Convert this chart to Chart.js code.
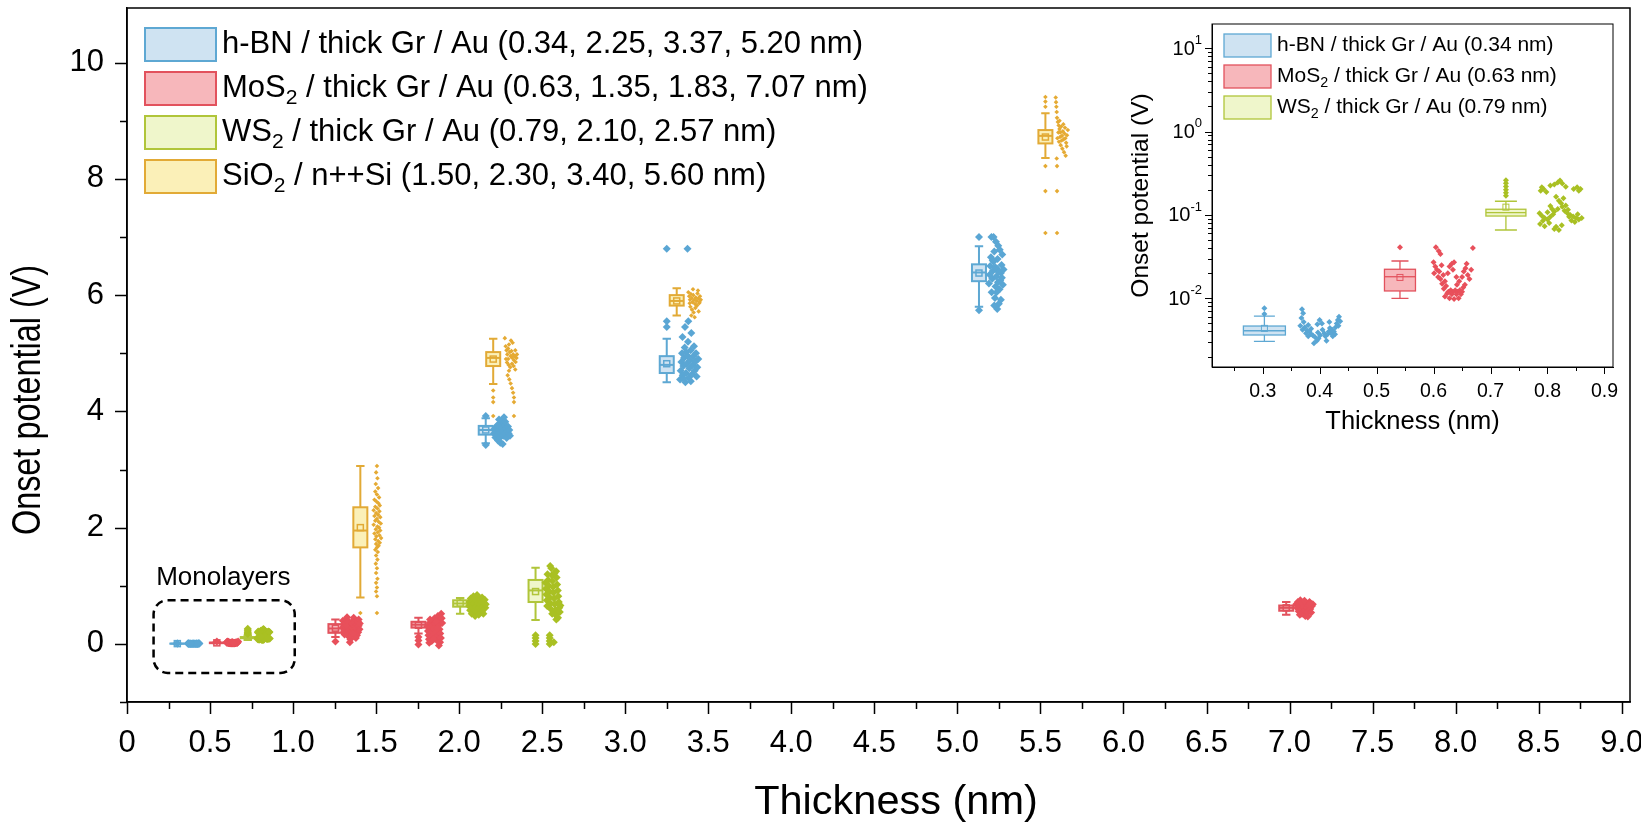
<!DOCTYPE html>
<html><head><meta charset="utf-8">
<script src="https://cdn.jsdelivr.net/npm/chart.js@4/dist/chart.umd.min.js"></script>
<style>
html,body{margin:0;padding:0;background:#fff;}
#wrap{position:relative;width:1641px;height:829px;overflow:hidden;}
#main{position:absolute;left:0;top:0;}
#inset{position:absolute;left:1100px;top:0;}
</style></head><body>
<div id="wrap"><canvas id="main" width="1641" height="829"></canvas><canvas id="inset" width="530" height="440"></canvas></div>
<script>
// ---------------- axis ticks / labels ----------------
const xTickVals = [0,0.5,1,1.5,2,2.5,3,3.5,4,4.5,5,5.5,6,6.5,7,7.5,8,8.5,9];
const xTickLabels = ['0','0.5','1.0','1.5','2.0','2.5','3.0','3.5','4.0','4.5','5.0','5.5','6.0','6.5','7.0','7.5','8.0','8.5','9.0'];
const xMinorVals = [0.25,0.75,1.25,1.75,2.25,2.75,3.25,3.75,4.25,4.75,5.25,5.75,6.25,6.75,7.25,7.75,8.25,8.75];
const yTickVals = [0,2,4,6,8,10];
const yTickLabels = ['0','2','4','6','8','10'];
const yMinorVals = [-1,1,3,5,7,9];
const insetXTickVals = [0.3,0.4,0.5,0.6,0.7,0.8,0.9];
const insetXTickLabels = ['0.3','0.4','0.5','0.6','0.7','0.8','0.9'];
const insetXMinorVals = [0.25,0.35,0.45,0.55,0.65,0.75,0.85];
const insetYDecades = [0.01,0.1,1,10];
const insetYExponents = ['-2','-1','0','1'];
const mainXTitle = 'Thickness (nm)';
const mainYTitle = 'Onset potential (V)';
const insetXTitle = 'Thickness (nm)';
const insetYTitle = 'Onset potential (V)';

// ---------------- legend text ----------------
const mainLegendLabels = [
  'h-BN / thick Gr / Au (0.34, 2.25, 3.37, 5.20 nm)',
  'MoS_2 / thick Gr / Au (0.63, 1.35, 1.83, 7.07 nm)',
  'WS_2 / thick Gr / Au (0.79, 2.10, 2.57 nm)',
  'SiO_2 / n++Si (1.50, 2.30, 3.40, 5.60 nm)'
];
const insetLegendLabels = [
  'h-BN / thick Gr / Au (0.34 nm)',
  'MoS_2 / thick Gr / Au (0.63 nm)',
  'WS_2 / thick Gr / Au (0.79 nm)'
];
const monoLabel = 'Monolayers';
const monoFrame = [0.16, 1.01, -0.5, 0.75];   // x0, x1, y0, y1 (data units)
const monoLabelPos = [0.58, 1.14];

// ---------------- box statistics: [x, lowWhisker, q1, median, q3, highWhisker, mean] ----------------
const hbnBoxes = [
  [0.303, 0.00305, 0.00363, 0.00408, 0.00465, 0.0061, 0.00436],
  [2.160, 3.45, 3.60, 3.68, 3.75, 3.88, 3.68],
  [3.250, 4.50, 4.66, 4.80, 4.95, 5.25, 4.82],
  [5.130, 5.80, 6.24, 6.39, 6.53, 6.84, 6.38]
];
const mos2Boxes = [
  [0.541, 0.0100, 0.01225, 0.01815, 0.0223, 0.028, 0.0178],
  [1.255, 0.12, 0.19, 0.265, 0.34, 0.42, 0.27],
  [1.755, 0.18, 0.28, 0.33, 0.38, 0.45, 0.32],
  [6.980, 0.50, 0.57, 0.62, 0.66, 0.72, 0.62]
];
const ws2Boxes = [
  [0.727, 0.066, 0.097, 0.1066, 0.117, 0.146, 0.124],
  [2.006, 0.52, 0.64, 0.695, 0.75, 0.79, 0.70],
  [2.460, 0.41, 0.72, 0.92, 1.10, 1.31, 0.90]
];
const sio2Boxes = [
  [1.405, 0.80, 1.66, 1.95, 2.35, 3.06, 2.00],
  [2.205, 4.47, 4.78, 4.92, 5.02, 5.25, 4.90],
  [3.310, 5.65, 5.82, 5.90, 6.00, 6.12, 5.90],
  [5.530, 8.36, 8.61, 8.74, 8.84, 9.13, 8.72]
];

// ---------------- box outliers [x, y] ----------------
const hbnOutliers = [[0.303,0.0076],[0.303,0.0065],[2.16,3.92],[2.16,3.42],[3.25,5.45],[3.25,5.55],[3.25,6.80],[5.13,7.00],[5.13,5.74]];
const mos2Outliers = [[0.541,0.041],[1.255,0.04],[1.755,0.12],[1.755,0.06],[1.755,-0.01]];
const ws2Outliers = [[0.727,0.17],[0.727,0.185],[0.727,0.20],[0.727,0.22],[0.727,0.24],[0.727,0.26],[2.46,0.15],[2.46,0.10],[2.46,0.05],[2.46,0.0]];
const sio2Outliers = [[1.405,0.53],[2.205,4.36],[2.205,4.24],[2.205,4.16],[2.205,3.92],[5.53,9.24],[5.53,9.33],[5.53,9.41],[5.53,8.22],[5.53,7.79],[5.53,7.07]];

// ---------------- individual measurements [x(jittered), V] ----------------
const hbn034Pts = [[0.369,0.0074],[0.371,0.0066],[0.368,0.0058],[0.372,0.0052],[0.366,0.0047],[0.374,0.0045],[0.370,0.0042],[0.378,0.0041],[0.382,0.0040],[0.376,0.0038],[0.385,0.0037],[0.380,0.0035],[0.388,0.0036],[0.392,0.0034],[0.395,0.0031],[0.390,0.0029],[0.398,0.0033],[0.401,0.0036],[0.397,0.0039],[0.400,0.0055],[0.404,0.0050],[0.396,0.0049],[0.405,0.0042],[0.408,0.0038],[0.410,0.0035],[0.412,0.0031],[0.414,0.0037],[0.416,0.0040],[0.418,0.0044],[0.420,0.0038],[0.422,0.0042],[0.417,0.0052],[0.425,0.0040],[0.428,0.0045],[0.430,0.0050],[0.432,0.0055],[0.434,0.0060],[0.436,0.0053],[0.433,0.0047],[0.427,0.0037],[0.423,0.0035],[0.385,0.0043],[0.380,0.0048]];
const mos2063Pts = [[0.604,0.041],[0.609,0.037],[0.612,0.034],[0.600,0.027],[0.603,0.024],[0.606,0.022],[0.601,0.020],[0.610,0.021],[0.614,0.025],[0.608,0.018],[0.612,0.017],[0.617,0.019],[0.615,0.015],[0.620,0.016],[0.618,0.013],[0.622,0.014],[0.626,0.012],[0.630,0.0125],[0.634,0.012],[0.638,0.0125],[0.642,0.012],[0.646,0.0125],[0.650,0.012],[0.624,0.0115],[0.632,0.0112],[0.640,0.0112],[0.648,0.0112],[0.620,0.0105],[0.628,0.0100],[0.636,0.0098],[0.644,0.0100],[0.625,0.020],[0.628,0.024],[0.632,0.026],[0.636,0.027],[0.634,0.022],[0.640,0.018],[0.645,0.016],[0.650,0.018],[0.653,0.021],[0.656,0.023],[0.658,0.026],[0.660,0.019],[0.663,0.017],[0.655,0.0145],[0.666,0.022],[0.669,0.040],[0.652,0.0135],[0.641,0.0145]];
const ws2079Pts = [[0.788,0.195],[0.793,0.205],[0.798,0.188],[0.790,0.215],[0.805,0.225],[0.812,0.232],[0.818,0.245],[0.822,0.258],[0.826,0.238],[0.832,0.218],[0.846,0.205],[0.852,0.215],[0.858,0.205],[0.855,0.195],[0.815,0.165],[0.820,0.148],[0.824,0.138],[0.828,0.158],[0.826,0.125],[0.818,0.118],[0.830,0.112],[0.835,0.105],[0.840,0.100],[0.845,0.096],[0.850,0.092],[0.855,0.088],[0.848,0.082],[0.842,0.086],[0.838,0.095],[0.786,0.105],[0.790,0.098],[0.795,0.092],[0.800,0.088],[0.805,0.095],[0.810,0.102],[0.812,0.110],[0.808,0.118],[0.800,0.108],[0.792,0.085],[0.787,0.078],[0.795,0.073],[0.803,0.080],[0.815,0.072],[0.820,0.066],[0.812,0.068],[0.825,0.075],[0.832,0.130],[0.836,0.115],[0.805,0.128],[0.860,0.092],[0.853,0.102]];
const mos2135Pts = [[1.300,0.40],[1.305,0.33],[1.300,0.28],[1.310,0.24],[1.305,0.20],[1.315,0.30],[1.318,0.36],[1.322,0.42],[1.325,0.46],[1.330,0.38],[1.328,0.31],[1.335,0.27],[1.332,0.22],[1.340,0.18],[1.338,0.12],[1.345,0.08],[1.342,0.03],[1.350,0.15],[1.352,0.22],[1.355,0.28],[1.358,0.34],[1.360,0.40],[1.365,0.45],[1.368,0.37],[1.372,0.30],[1.370,0.24],[1.375,0.19],[1.380,0.26],[1.385,0.33],[1.390,0.38],[1.395,0.31],[1.400,0.25],[1.392,0.20],[1.385,0.15],[1.378,0.10],[1.395,0.42],[1.402,0.35],[1.310,0.16],[1.362,0.18]];
const sio2150Pts = [[1.505,3.06],[1.500,2.95],[1.508,2.85],[1.498,2.75],[1.512,2.68],[1.495,2.62],[1.505,2.57],[1.518,2.52],[1.490,2.48],[1.502,2.45],[1.514,2.42],[1.522,2.38],[1.495,2.36],[1.508,2.33],[1.485,2.30],[1.520,2.28],[1.500,2.25],[1.512,2.22],[1.490,2.20],[1.525,2.18],[1.505,2.15],[1.495,2.12],[1.515,2.10],[1.528,2.07],[1.485,2.05],[1.508,2.02],[1.518,2.00],[1.498,1.97],[1.525,1.95],[1.510,1.92],[1.490,1.90],[1.520,1.87],[1.502,1.85],[1.530,1.82],[1.495,1.80],[1.512,1.77],[1.522,1.74],[1.500,1.72],[1.515,1.69],[1.505,1.66],[1.495,1.62],[1.510,1.58],[1.500,1.52],[1.508,1.45],[1.498,1.38],[1.505,1.30],[1.500,1.22],[1.508,1.12],[1.500,1.05],[1.505,0.97],[1.500,0.90],[1.505,0.82],[1.505,0.53]];
const mos2183Pts = [[1.810,0.30],[1.812,0.22],[1.815,0.15],[1.818,0.08],[1.820,0.02],[1.822,0.36],[1.826,0.28],[1.830,0.20],[1.832,0.12],[1.835,0.05],[1.838,0.32],[1.842,0.40],[1.845,0.25],[1.848,0.17],[1.852,0.44],[1.855,0.35],[1.858,0.28],[1.862,0.20],[1.866,0.12],[1.870,0.05],[1.872,0.48],[1.875,0.40],[1.878,0.32],[1.882,0.25],[1.886,0.18],[1.890,0.10],[1.885,0.03],[1.892,0.52],[1.895,0.44],[1.898,0.36],[1.878,-0.03],[1.860,0.38],[1.846,0.08],[1.825,0.42],[1.868,0.27]];
const ws2210Pts = [[2.060,0.65],[2.062,0.72],[2.066,0.58],[2.070,0.78],[2.072,0.68],[2.076,0.52],[2.080,0.62],[2.082,0.74],[2.086,0.82],[2.090,0.70],[2.094,0.58],[2.096,0.48],[2.100,0.64],[2.104,0.76],[2.108,0.84],[2.110,0.70],[2.114,0.55],[2.118,0.62],[2.122,0.78],[2.126,0.68],[2.130,0.58],[2.134,0.72],[2.138,0.80],[2.142,0.64],[2.146,0.52],[2.150,0.70],[2.154,0.76],[2.158,0.62],[2.160,0.68],[2.092,0.78],[2.118,0.50],[2.140,0.57]];
const ws2257Pts = [[2.520,1.05],[2.522,0.95],[2.525,0.85],[2.528,0.75],[2.530,0.65],[2.532,1.20],[2.536,1.10],[2.540,1.00],[2.543,0.90],[2.546,0.80],[2.550,0.70],[2.552,0.60],[2.555,1.30],[2.558,1.18],[2.562,1.08],[2.565,0.98],[2.568,0.88],[2.572,0.78],[2.575,0.68],[2.578,0.58],[2.580,0.50],[2.584,1.25],[2.587,1.14],[2.590,1.02],[2.594,0.92],[2.597,0.82],[2.600,0.72],[2.603,0.62],[2.606,0.55],[2.595,0.45],[2.585,0.42],[2.548,1.34],[2.575,1.22],[2.610,0.66],[2.560,0.52],[2.545,0.15],[2.545,0.10],[2.545,0.05],[2.545,0.0],[2.570,0.03]];
const hbn225Pts = [[2.210,3.62],[2.214,3.70],[2.218,3.55],[2.222,3.66],[2.226,3.74],[2.230,3.60],[2.234,3.50],[2.238,3.68],[2.242,3.78],[2.246,3.64],[2.250,3.56],[2.254,3.72],[2.258,3.84],[2.262,3.66],[2.266,3.58],[2.270,3.90],[2.274,3.76],[2.278,3.62],[2.282,3.70],[2.286,3.54],[2.290,3.66],[2.294,3.74],[2.298,3.62],[2.302,3.68],[2.306,3.58],[2.248,3.46],[2.262,3.44],[2.240,3.86],[2.278,3.82],[2.230,3.76]];
const sio2230Pts = [[2.275,5.26],[2.280,5.12],[2.285,5.05],[2.290,4.98],[2.295,5.08],[2.300,5.15],[2.305,5.02],[2.310,4.95],[2.315,5.04],[2.320,4.92],[2.325,4.98],[2.330,4.88],[2.335,4.95],[2.340,4.85],[2.345,4.92],[2.282,4.90],[2.288,4.84],[2.298,4.80],[2.308,4.76],[2.318,4.82],[2.328,4.78],[2.338,4.72],[2.300,4.70],[2.292,4.62],[2.302,4.55],[2.310,4.48],[2.318,4.40],[2.325,4.32],[2.330,4.24],[2.330,4.16],[2.330,3.92],[2.322,5.18],[2.312,5.22],[2.338,5.05],[2.348,4.98],[2.295,4.90]];
const hbn337Pts = [[3.330,4.55],[3.334,4.70],[3.338,4.85],[3.342,5.00],[3.346,4.62],[3.350,4.78],[3.354,4.92],[3.358,5.10],[3.362,4.50],[3.366,4.66],[3.370,4.82],[3.374,4.96],[3.378,5.20],[3.382,4.58],[3.386,4.74],[3.390,4.88],[3.394,5.05],[3.398,5.35],[3.402,4.64],[3.406,4.80],[3.410,4.95],[3.414,5.12],[3.418,4.70],[3.422,4.86],[3.426,5.00],[3.430,4.60],[3.434,4.76],[3.360,5.45],[3.380,5.55],[3.345,5.28],[3.375,6.80],[3.395,4.52],[3.440,4.90],[3.366,5.02],[3.352,4.56]];
const sio2340Pts = [[3.380,6.05],[3.385,5.98],[3.390,5.92],[3.395,6.02],[3.400,5.95],[3.405,5.88],[3.410,6.00],[3.415,5.92],[3.420,5.85],[3.425,5.96],[3.430,5.90],[3.435,6.03],[3.440,5.94],[3.445,5.86],[3.450,5.98],[3.455,5.92],[3.392,5.80],[3.402,5.75],[3.412,5.70],[3.422,5.78],[3.432,5.82],[3.442,5.72],[3.398,5.65],[3.418,5.62],[3.438,6.08],[3.408,6.10],[3.448,5.88],[3.388,5.86]];
const hbn520Pts = [[5.190,6.20],[5.194,6.35],[5.198,6.50],[5.202,6.65],[5.206,6.05],[5.210,6.28],[5.214,6.42],[5.218,6.58],[5.222,6.75],[5.226,5.95],[5.230,6.15],[5.234,6.32],[5.238,6.46],[5.242,6.62],[5.246,6.85],[5.250,5.85],[5.254,6.10],[5.258,6.25],[5.262,6.38],[5.266,6.52],[5.270,6.70],[5.274,6.18],[5.278,6.44],[5.205,7.00],[5.218,7.00],[5.232,6.92],[5.240,5.76],[5.222,5.82],[5.262,5.92],[5.248,6.40],[5.212,6.60],[5.268,6.30],[5.236,6.05],[5.255,6.78],[5.228,6.48],[5.244,6.22]];
const sio2560Pts = [[5.592,9.40],[5.594,9.32],[5.596,9.24],[5.598,9.15],[5.600,9.05],[5.605,8.98],[5.610,8.92],[5.615,8.86],[5.620,8.80],[5.625,8.90],[5.630,8.74],[5.635,8.82],[5.640,8.68],[5.645,8.78],[5.650,8.70],[5.655,8.62],[5.660,8.75],[5.602,8.70],[5.612,8.64],[5.622,8.58],[5.632,8.52],[5.642,8.46],[5.652,8.40],[5.608,8.80],[5.618,8.72],[5.628,8.66],[5.638,8.94],[5.648,8.88],[5.658,8.56],[5.665,8.84],[5.600,8.22],[5.600,7.79],[5.600,7.07],[5.598,8.35],[5.615,9.00]];
const mos2707Pts = [[7.040,0.68],[7.045,0.62],[7.050,0.72],[7.055,0.56],[7.060,0.66],[7.065,0.75],[7.070,0.60],[7.075,0.52],[7.080,0.68],[7.085,0.63],[7.090,0.57],[7.095,0.48],[7.100,0.70],[7.105,0.62],[7.110,0.55],[7.115,0.66],[7.120,0.72],[7.125,0.60],[7.130,0.54],[7.135,0.65],[7.140,0.68],[7.062,0.50],[7.110,0.47],[7.090,0.74],[7.125,0.70]];

// ---------------- styles ----------------
const FONT = "'Liberation Sans', Arial, Helvetica, sans-serif";
const C = {
  hbn:  {edge:'#5ea8d3', fill:'#cfe3f2', pt:'#5aa6d4'},
  mos2: {edge:'#e2525d', fill:'#f7b7bb', pt:'#e8505b'},
  ws2:  {edge:'#b0c53a', fill:'#eff6cb', pt:'#a9c023'},
  sio2: {edge:'#e2aa36', fill:'#fbf0b8', pt:'#e5aa33'}
};
const toXY = arr => arr.map(p => ({x:p[0], y:p[1]}));
const mono = arr => arr.filter(p => p[0] < 1);

// ---------------- plugins ----------------
function makeBoxPlugin(groups) {
  return {
    id: 'boxes',
    beforeDatasetsDraw(chart) {
      const {ctx, chartArea, scales:{x, y}} = chart;
      ctx.save();
      ctx.beginPath(); ctx.rect(chartArea.left, chartArea.top, chartArea.width, chartArea.height); ctx.clip();
      for (const g of groups) {
        for (const b of g.data) {
          if (b[0] < x.min || b[0] > x.max) continue;
          const cx = x.getPixelForValue(b[0]);
          const lo = y.getPixelForValue(b[1]), q1 = y.getPixelForValue(b[2]), med = y.getPixelForValue(b[3]);
          const q3 = y.getPixelForValue(b[4]), hi = y.getPixelForValue(b[5]), mean = y.getPixelForValue(b[6]);
          const hw = g.width / 2, cw = g.width * g.cap / 2;
          ctx.lineWidth = g.lw; ctx.strokeStyle = g.edge;
          ctx.beginPath();
          ctx.moveTo(cx, q3); ctx.lineTo(cx, hi);
          ctx.moveTo(cx - cw, hi); ctx.lineTo(cx + cw, hi);
          ctx.moveTo(cx, q1); ctx.lineTo(cx, lo);
          ctx.moveTo(cx - cw, lo); ctx.lineTo(cx + cw, lo);
          ctx.stroke();
          ctx.fillStyle = g.fill;
          ctx.fillRect(cx - hw, q3, g.width, q1 - q3);
          ctx.strokeRect(cx - hw, q3, g.width, q1 - q3);
          ctx.beginPath(); ctx.moveTo(cx - hw, med); ctx.lineTo(cx + hw, med); ctx.stroke();
          ctx.lineWidth = g.lw * 0.75;
          ctx.strokeRect(cx - g.ms / 2, mean - g.ms / 2, g.ms, g.ms);
        }
      }
      ctx.restore();
    }
  };
}

function makeTickPlugin(cfg) {
  return {
    id: 'ticksFrame',
    afterDraw(chart) {
      const {ctx, chartArea: a, scales:{x, y}} = chart;
      ctx.save();
      ctx.strokeStyle = '#000'; ctx.lineWidth = cfg.lw;
      ctx.beginPath();
      cfg.xMajor.forEach(v => { const p = Math.round(x.getPixelForValue(v)) + 0.5; ctx.moveTo(p, a.bottom); ctx.lineTo(p, a.bottom + cfg.maj); });
      cfg.xMinor.forEach(v => { const p = Math.round(x.getPixelForValue(v)) + 0.5; ctx.moveTo(p, a.bottom); ctx.lineTo(p, a.bottom + cfg.min); });
      cfg.yMajor.forEach(v => { const p = Math.round(y.getPixelForValue(v)) + 0.5; ctx.moveTo(a.left, p); ctx.lineTo(a.left - cfg.maj, p); });
      cfg.yMinor.forEach(v => { const p = Math.round(y.getPixelForValue(v)) + 0.5; ctx.moveTo(a.left, p); ctx.lineTo(a.left - cfg.min, p); });
      ctx.stroke();
      ctx.lineWidth = cfg.frame;
      ctx.strokeRect(a.left, a.top, a.right - a.left, a.bottom - a.top);
      ctx.restore();
    }
  };
}

function makeTitlePlugin(cfg) {
  return {
    id: 'axisTitles',
    afterDraw(chart) {
      const ctx = chart.ctx;
      ctx.save();
      ctx.fillStyle = '#000'; ctx.textAlign = 'center'; ctx.textBaseline = 'middle';
      ctx.font = cfg.xSize + 'px ' + FONT;
      ctx.fillText(cfg.xText, cfg.xPos[0], cfg.xPos[1]);
      ctx.translate(cfg.yPos[0], cfg.yPos[1]);
      ctx.rotate(-Math.PI / 2);
      ctx.scale(cfg.yStretch, 1);
      ctx.font = cfg.ySize + 'px ' + FONT;
      ctx.fillText(cfg.yText, 0, 0);
      ctx.restore();
    }
  };
}

function drawRich(ctx, str, x, y, size) {
  const parts = str.split(/_(\d)/);
  let cx = x;
  parts.forEach((p, i) => {
    if (!p) return;
    const sub = i % 2 === 1;
    ctx.font = (sub ? size * 0.68 : size) + 'px ' + FONT;
    ctx.fillText(p, cx, sub ? y + size * 0.3 : y);
    cx += ctx.measureText(p).width;
  });
}

function makeLegendPlugin(cfg) {
  return {
    id: 'richLegend',
    afterDraw(chart) {
      const ctx = chart.ctx;
      ctx.save();
      ctx.textBaseline = 'middle'; ctx.textAlign = 'left'; ctx.fillStyle = '#000';
      cfg.labels.forEach((lab, i) => {
        const c = cfg.colors[i];
        const top = cfg.top + i * cfg.step;
        ctx.fillStyle = c.fill; ctx.fillRect(cfg.left, top, cfg.bw, cfg.bh);
        ctx.strokeStyle = c.edge; ctx.lineWidth = cfg.blw;
        ctx.strokeRect(cfg.left, top, cfg.bw, cfg.bh);
        ctx.fillStyle = '#000';
        drawRich(ctx, lab, cfg.textX, top + cfg.bh / 2, cfg.size);
      });
      ctx.restore();
    }
  };
}

const monoPlugin = {
  id: 'mono',
  afterDatasetsDraw(chart) {
    const {ctx, scales:{x, y}} = chart;
    const x0 = x.getPixelForValue(monoFrame[0]), x1 = x.getPixelForValue(monoFrame[1]);
    const y0 = y.getPixelForValue(monoFrame[3]), y1 = y.getPixelForValue(monoFrame[2]);
    ctx.save();
    ctx.strokeStyle = '#000'; ctx.lineWidth = 2.5; ctx.setLineDash([8, 5]);
    ctx.beginPath(); ctx.roundRect(x0, y0, x1 - x0, y1 - y0, 14); ctx.stroke();
    ctx.setLineDash([]);
    ctx.fillStyle = '#000'; ctx.font = '26px ' + FONT; ctx.textAlign = 'center'; ctx.textBaseline = 'middle';
    ctx.fillText(monoLabel, x.getPixelForValue(monoLabelPos[0]), y.getPixelForValue(monoLabelPos[1]));
    ctx.restore();
  }
};

function insetYLabelsPlugin() {
  return {
    id: 'logLabels',
    afterDraw(chart) {
      const {ctx, chartArea: a, scales:{y}} = chart;
      ctx.save(); ctx.fillStyle = '#000'; ctx.textBaseline = 'middle';
      insetYDecades.forEach((v, i) => {
        const p = y.getPixelForValue(v);
        const e = insetYExponents[i];
        ctx.font = '13px ' + FONT; const ew = ctx.measureText(e).width;
        const right = a.left - 10;
        ctx.textAlign = 'right';
        ctx.fillText(e, right, p - 8);
        ctx.font = '20px ' + FONT;
        ctx.fillText('10', right - ew, p + 1);
      });
      ctx.restore();
    }
  };
}

// ---------------- main chart ----------------
const ptDs = (label, pts, col, r) => ({ type:'scatter', label, data: toXY(pts), pointStyle:'rectRot', pointRadius:r, pointHoverRadius:r,
  backgroundColor: col, borderWidth:0, showLine:false });

new Chart(document.getElementById('main'), {
  type: 'scatter',
  data: { datasets: [
    ptDs('h-BN / thick Gr / Au', [...hbn034Pts, ...hbn225Pts, ...hbn337Pts, ...hbn520Pts, ...hbnOutliers], C.hbn.pt, 4),
    ptDs('MoS2 / thick Gr / Au', [...mos2063Pts, ...mos2135Pts, ...mos2183Pts, ...mos2707Pts, ...mos2Outliers], C.mos2.pt, 4),
    ptDs('WS2 / thick Gr / Au', [...ws2079Pts, ...ws2210Pts, ...ws2257Pts, ...ws2Outliers], C.ws2.pt, 4),
    ptDs('SiO2 / n++Si', [...sio2150Pts, ...sio2230Pts, ...sio2340Pts, ...sio2560Pts, ...sio2Outliers], C.sio2.pt, 2.3)
  ]},
  options: {
    responsive:false, animation:false, events:[],
    layout:{ padding:{ left:0, right:11, top:8, bottom:0 } },
    plugins:{ legend:{display:false}, tooltip:{enabled:false} },
    scales:{
      x:{ type:'linear', min:0, max:9.05,
        afterBuildTicks: s => { s.ticks = xTickVals.map(v => ({value:v})); },
        afterFit: s => { s.height = 127; s.paddingLeft = 0; s.paddingRight = 0; },
        ticks:{ callback:(v, i) => xTickLabels[i], font:{family:FONT, size:31}, color:'#000', padding:23, maxRotation:0, autoSkip:false },
        grid:{ display:false, drawTicks:false },
        border:{ display:true, color:'#000', width:1.5 },
        title:{ display:false, text:mainXTitle }
      },
      y:{ type:'linear', min:-1, max:10.94,
        afterBuildTicks: s => { s.ticks = yTickVals.map(v => ({value:v})); },
        afterFit: s => { s.width = 127; s.paddingTop = 0; s.paddingBottom = 0; },
        ticks:{ callback:(v, i) => yTickLabels[i], font:{family:FONT, size:31}, color:'#000', padding:23, autoSkip:false },
        grid:{ display:false, drawTicks:false },
        border:{ display:true, color:'#000', width:1.5 },
        title:{ display:false, text:mainYTitle }
      }
    }
  },
  plugins:[
    makeBoxPlugin([
      {data:hbnBoxes, edge:C.hbn.edge, fill:C.hbn.fill, width:14, cap:0.6, lw:2, ms:6},
      {data:mos2Boxes, edge:C.mos2.edge, fill:C.mos2.fill, width:14, cap:0.6, lw:2, ms:6},
      {data:ws2Boxes, edge:C.ws2.edge, fill:C.ws2.fill, width:14, cap:0.6, lw:2, ms:6},
      {data:sio2Boxes, edge:C.sio2.edge, fill:C.sio2.fill, width:14, cap:0.6, lw:2, ms:6}
    ]),
    makeTickPlugin({xMajor:xTickVals, xMinor:xMinorVals, yMajor:yTickVals, yMinor:yMinorVals, maj:12, min:7, lw:1.5, frame:1.5}),
    makeTitlePlugin({xText:mainXTitle, xSize:41.5, xPos:[896, 803], yText:mainYTitle, ySize:40, yStretch:0.81, yPos:[29, 400]}),
    monoPlugin,
    makeLegendPlugin({labels:mainLegendLabels, colors:[C.hbn, C.mos2, C.ws2, C.sio2], left:145, top:28, step:44, bw:71, bh:33, blw:2, textX:222, size:31})
  ]
});

// ---------------- inset chart ----------------
new Chart(document.getElementById('inset'), {
  type: 'scatter',
  data: { datasets: [
    ptDs('h-BN / thick Gr / Au (0.34 nm)', [...hbn034Pts, ...mono(hbnOutliers)], C.hbn.pt, 3),
    ptDs('MoS2 / thick Gr / Au (0.63 nm)', [...mos2063Pts, ...mono(mos2Outliers)], C.mos2.pt, 3),
    ptDs('WS2 / thick Gr / Au (0.79 nm)', [...ws2079Pts, ...mono(ws2Outliers)], C.ws2.pt, 3)
  ]},
  options: {
    responsive:false, animation:false, events:[],
    layout:{ padding:{ left:0, right:17, top:24, bottom:0 } },
    plugins:{ legend:{display:false}, tooltip:{enabled:false} },
    scales:{
      x:{ type:'linear', min:0.211, max:0.915,
        afterBuildTicks: s => { s.ticks = insetXTickVals.map(v => ({value:v})); },
        afterFit: s => { s.height = 73; s.paddingLeft = 0; s.paddingRight = 0; },
        ticks:{ callback:(v, i) => insetXTickLabels[i], font:{family:FONT, size:19.5}, color:'#000', padding:13, maxRotation:0, autoSkip:false },
        grid:{ display:false, drawTicks:false },
        border:{ display:true, color:'#000', width:1 },
        title:{ display:true, text:insetXTitle, color:'#000', font:{family:FONT, size:25.5}, padding:{top:0, bottom:3} }
      },
      y:{ type:'logarithmic', min:0.0015, max:19.5,
        afterBuildTicks: s => { s.ticks = insetYDecades.map(v => ({value:v})); },
        afterFit: s => { s.width = 112; s.paddingTop = 0; s.paddingBottom = 0; },
        ticks:{ display:false },
        grid:{ display:false, drawTicks:false },
        border:{ display:true, color:'#000', width:1 },
        title:{ display:true, text:insetYTitle, color:'#000', font:{family:FONT, size:24.5}, padding:{top:27, bottom:0} }
      }
    }
  },
  plugins:[
    makeBoxPlugin([
      {data:hbnBoxes, edge:C.hbn.edge, fill:C.hbn.fill, width:42, cap:0.5, lw:1.3, ms:6},
      {data:mos2Boxes, edge:C.mos2.edge, fill:C.mos2.fill, width:31, cap:0.55, lw:1.3, ms:6},
      {data:ws2Boxes, edge:C.ws2.edge, fill:C.ws2.fill, width:40, cap:0.55, lw:1.3, ms:6}
    ]),
    makeTickPlugin({xMajor:insetXTickVals, xMinor:insetXMinorVals, yMajor:insetYDecades,
      yMinor:[2,3,4,5,6,7,8,9].flatMap(m => [0.001,0.01,0.1,1].map(d => m * d)).filter(v => v > 0.0015 && v < 19.5),
      maj:7, min:4, lw:1, frame:1}),
    insetYLabelsPlugin(),
    makeLegendPlugin({labels:insetLegendLabels, colors:[C.hbn, C.mos2, C.ws2], left:124, top:34, step:31, bw:47, bh:23, blw:1.3, textX:177, size:21})
  ]
});
</script>
</body></html>
